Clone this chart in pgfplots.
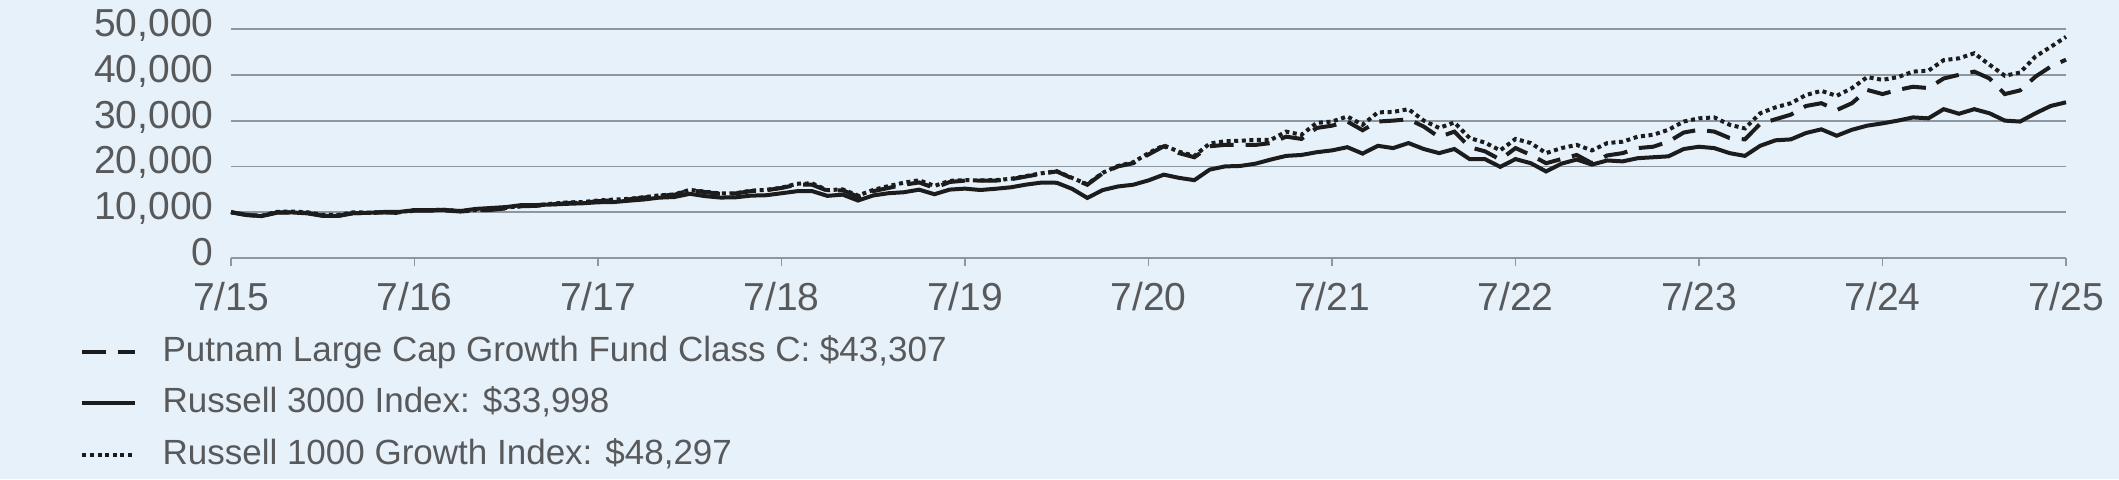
\documentclass[border=0pt]{standalone}
\usepackage{pgfplots}
\usepackage{pgfplotstable}
\usepackage{fontspec}
\setmainfont{Liberation Sans}
\pgfplotsset{compat=1.18}
\definecolor{bgc}{HTML}{E7F1FA}
\definecolor{gridc}{HTML}{8C97A2}
\definecolor{txtc}{HTML}{58595B}
\definecolor{linec}{HTML}{1C1C1C}
\pgfplotstableread{
m fund r3 r1g
0 10000 10000 10000
1 9400 9400 9450
2 9150 9150 9220
3 9950 9900 10080
4 10000 9950 10140
5 9850 9750 9990
6 9250 9200 9420
7 9200 9180 9390
8 9800 9800 9990
9 9820 9860 9900
10 9950 10050 10010
11 9850 10070 9970
12 10350 10450 10480
13 10330 10480 10460
14 10380 10490 10510
15 10150 10260 10250
16 10400 10720 10480
17 10500 10920 10610
18 10850 11130 10960
19 11300 11560 11410
20 11400 11570 11540
21 11700 11690 11860
22 12000 11840 12140
23 12100 11950 12230
24 12400 12170 12560
25 12600 12210 12750
26 12800 12510 12910
27 13200 12780 13280
28 13600 13180 13680
29 13800 13320 13890
30 14800 14020 14880
31 14400 13510 14480
32 14000 13200 14080
33 14100 13250 14150
34 14600 13620 14700
35 14800 13710 14880
36 15300 14140 15340
37 16000 14580 16210
38 16000 14610 16300
39 14700 13570 14820
40 14800 13840 14990
41 13400 12550 13640
42 14600 13660 14870
43 15300 14150 15700
44 16000 14360 16450
45 16500 14920 16980
46 15300 13930 15750
47 16600 14940 16850
48 16900 15150 17000
49 16900 14850 16950
50 16900 15120 17000
51 17200 15440 17300
52 17800 16030 17900
53 18400 16470 18500
54 18900 16430 18950
55 17400 15110 17500
56 16000 13120 16100
57 18500 14830 18600
58 20000 15620 20100
59 20700 16000 20900
60 22600 16950 22900
61 24400 18200 24600
62 22900 17500 23200
63 22000 17000 22300
64 24400 19300 25000
65 24700 20000 25500
66 24700 20100 25600
67 24700 20600 25800
68 25100 21500 25800
69 26500 22300 27600
70 26000 22500 26900
71 28400 23100 29500
72 28900 23500 29800
73 29800 24200 30900
74 27900 22800 29100
75 29800 24500 31800
76 30000 24000 31900
77 30300 25100 32500
78 28700 23800 30000
79 26400 22900 28400
80 27600 23800 29600
81 24200 21600 26200
82 23300 21600 25200
83 21500 19900 23500
84 24000 21600 26000
85 22500 20700 25100
86 20700 18900 22900
87 21600 20600 24000
88 22500 21500 24700
89 20700 20400 23500
90 22400 21300 25100
91 22900 21100 25400
92 24000 21800 26500
93 24300 22000 26900
94 25400 22200 28000
95 27400 23800 29800
96 28000 24300 30500
97 27600 24000 30700
98 26200 22900 29100
99 25900 22300 28300
100 29300 24500 31600
101 30300 25700 32900
102 31300 25900 33800
103 33200 27300 35600
104 33800 28100 36500
105 32300 26700 35400
106 33800 28000 37100
107 36700 28900 39500
108 35800 29400 38900
109 36700 30000 39500
110 37400 30700 40700
111 37100 30500 40900
112 39200 32500 43200
113 40000 31500 43600
114 40700 32500 44700
115 39200 31600 42200
116 35800 30000 39800
117 36600 29800 40500
118 39600 31600 44000
119 41800 33200 46100
120 43307 33998 48297
}\datatable
\begin{document}
\begin{tikzpicture}
\fill[bgc] (-115.5pt,-110.5pt) rectangle (944pt,129pt);
\useasboundingbox (-115.5pt,-110.5pt) rectangle (944pt,129pt);
\begin{axis}[
  at={(0pt,0pt)}, anchor=south west,
  scale only axis, width=917.5pt, height=114.5pt,
  xmin=0, xmax=120, ymin=0, ymax=50000,
  axis x line*=bottom, axis y line*=left,
  y axis line style={draw=none},
  x axis line style={gridc, line width=0.9pt},
  xtick={0,12,...,120},
  xticklabels={7/15,7/16,7/17,7/18,7/19,7/20,7/21,7/22,7/23,7/24,7/25},
  ytick={0,10000,20000,30000,40000,50000},
  scaled y ticks=false,
  /pgf/number format/assume math mode=true,
  yticklabel style={/pgf/number format/1000 sep={,}, anchor=base east, inner sep=0pt, xshift=-4.5pt, yshift=-3.75pt},
  xticklabel style={anchor=base, inner sep=0pt, yshift=-22pt},
  tick label style={font=\fontsize{19.5pt}{22pt}\selectfont, text=txtc},
  tick align=outside,
  major tick length=4pt,
  xtick style={gridc, line width=0.9pt},
  ytick style={draw=none},
  ymajorgrids,
  grid style={gridc, line width=0.9pt},
  clip=false,
  legend cell align=left,
  legend image code/.code={\draw[#1] (0pt,0pt) -- (26.5pt,0pt);},
  legend style={at={(rel axis cs:0,0)}, anchor=north west, xshift=-75.5pt, yshift=-39pt,
    draw=none, fill=none, inner sep=0pt, row sep=10.25pt, column sep=12.6pt,
    font=\fontsize{17.5pt}{21pt}\selectfont, text=txtc,
    nodes={inner sep=0pt, text height=12.5pt, text depth=3pt}},
]
\addplot[linec, line width=2pt, dash pattern=on 12pt off 6pt] table[x=m, y=fund] {\datatable};
\addlegendentry{Putnam Large Cap Growth Fund Class C: \$43,307}
\addplot[linec, line width=2pt] table[x=m, y=r3] {\datatable};
\addlegendentry{Russell 3000 Index: \$33,998}
\addplot[linec, line width=2pt, dash pattern=on 2pt off 1.8pt] table[x=m, y=r1g] {\datatable};
\addlegendentry{Russell 1000 Growth Index: \$48,297}
\end{axis}
\end{tikzpicture}
\end{document}
